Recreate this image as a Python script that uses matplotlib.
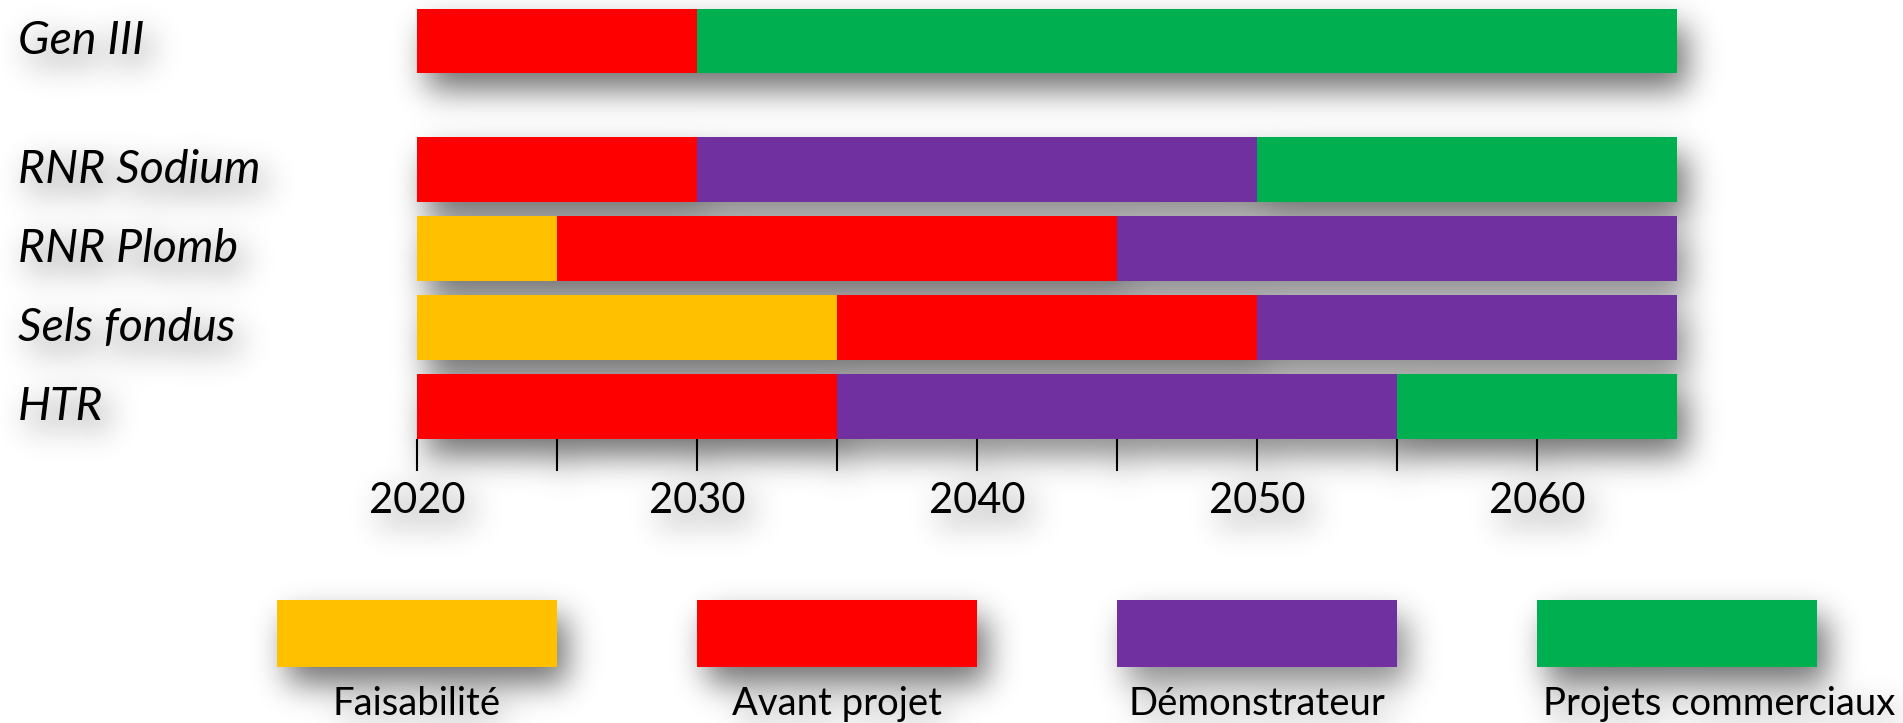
import numpy as np
import matplotlib
matplotlib.use("Agg")
import matplotlib.pyplot as plt
from matplotlib.transforms import blended_transform_factory

# Data: years spent in each phase, starting in 2020
techs = ["Gen III", "RNR Sodium", "RNR Plomb", "Sels fondus", "HTR"]
phases = ["Faisabilité", "Avant projet", "Démonstrateur", "Projets commerciaux"]
colors = ["#FFC000", "#FF0000", "#7030A0", "#00B050"]
start_year = 2020
faisabilite = [0, 0, 5, 15, 0]
avant_projet = [10, 10, 20, 15, 15]
demonstrateur = [0, 20, 20, 15, 20]
commercial = [35, 15, 0, 0, 10]
tick_years = list(range(2020, 2061, 5))

plt.rcParams["font.family"] = ["Lato", "DejaVu Sans"]

W, H = 1903, 723
fig = plt.figure(figsize=(W / 100, H / 100), dpi=100)
fig.patch.set_facecolor("white")

# main bar area
ax = fig.add_axes([417 / W, 1 - 439 / H, 1260 / W, 430.5 / H])
ax.set_facecolor("none")

# Gen III sits apart from the 4th gen reactors
ypos = [len(techs) - 2 + 1.63] + list(range(len(techs) - 2, -1, -1))

left = np.full(len(techs), start_year, dtype=float)
for vals, c in zip([faisabilite, avant_projet, demonstrateur, commercial], colors):
    ax.barh(ypos, vals, left=left, height=0.82, color=c, linewidth=0)
    left += np.array(vals)

ax.set_xlim(2020, 2065)
ax.set_ylim(-0.41, ypos[0] + 0.41)
ax.set_xticks(tick_years)
ax.set_xticklabels([str(y) if y % 10 == 0 else "" for y in tick_years])
ax.tick_params(axis="x", length=23, width=1.5, pad=8, labelsize=30)
ax.set_yticks([])
for s in ax.spines.values():
    s.set_visible(False)

trans = blended_transform_factory(fig.transFigure, ax.transData)
for y, t in zip(ypos, techs):
    ax.text(18 / W, y, t, transform=trans, ha="left", va="center",
            fontsize=33.5, style="italic")

# legend row, same year scale as the bars
lax = fig.add_axes([417 / W, 0, 1260 / W, 133 / H])
lax.set_xlim(2020, 2065)
lax.set_ylim(0, 133)
lax.axis("off")
for i, (p, c) in enumerate(zip(phases, colors)):
    cx = start_year + 15 * i
    lax.add_patch(plt.Rectangle((cx - 5, 56), 10, 67, color=c, lw=0, clip_on=False))
    if i == len(phases) - 1:
        lax.text(cx - 4.8, 19, p, ha="left", va="center", fontsize=27.5, clip_on=False)
    else:
        lax.text(cx, 19, p, ha="center", va="center", fontsize=27.5, clip_on=False)

# soft drop shadows under everything drawn so far
fig.canvas.draw()
img = np.asarray(fig.canvas.buffer_rgba())[..., :3].astype(float)
ink = 1 - img.min(axis=2) / 255.0
colorful = (img.max(axis=2) - img.min(axis=2)) > 60
bar_ink = np.where(colorful, ink, 0.0)
text_ink = np.where(colorful, 0.0, ink)


def blur(a, s):
    r = int(3 * s)
    k = np.exp(-0.5 * (np.arange(-r, r + 1) / s) ** 2)
    k /= k.sum()
    a = np.apply_along_axis(lambda v: np.convolve(v, k, mode="same"), 0, a)
    a = np.apply_along_axis(lambda v: np.convolve(v, k, mode="same"), 1, a)
    return a


def shift(a, dx, dy):
    out = np.zeros_like(a)
    out[dy:, dx:] = a[:-dy, :-dx]
    return out


shadow = blur(shift(bar_ink, 10, 17), 16) * 0.56
shadow += blur(shift(text_ink, 8, 12), 16) * 0.6
rgba = np.zeros((H, W, 4))
rgba[..., 3] = np.clip(shadow, 0, 1)
fig.figimage(rgba, xo=0, yo=0, origin="upper", zorder=-1)

fig.savefig("out.png", dpi=100)
